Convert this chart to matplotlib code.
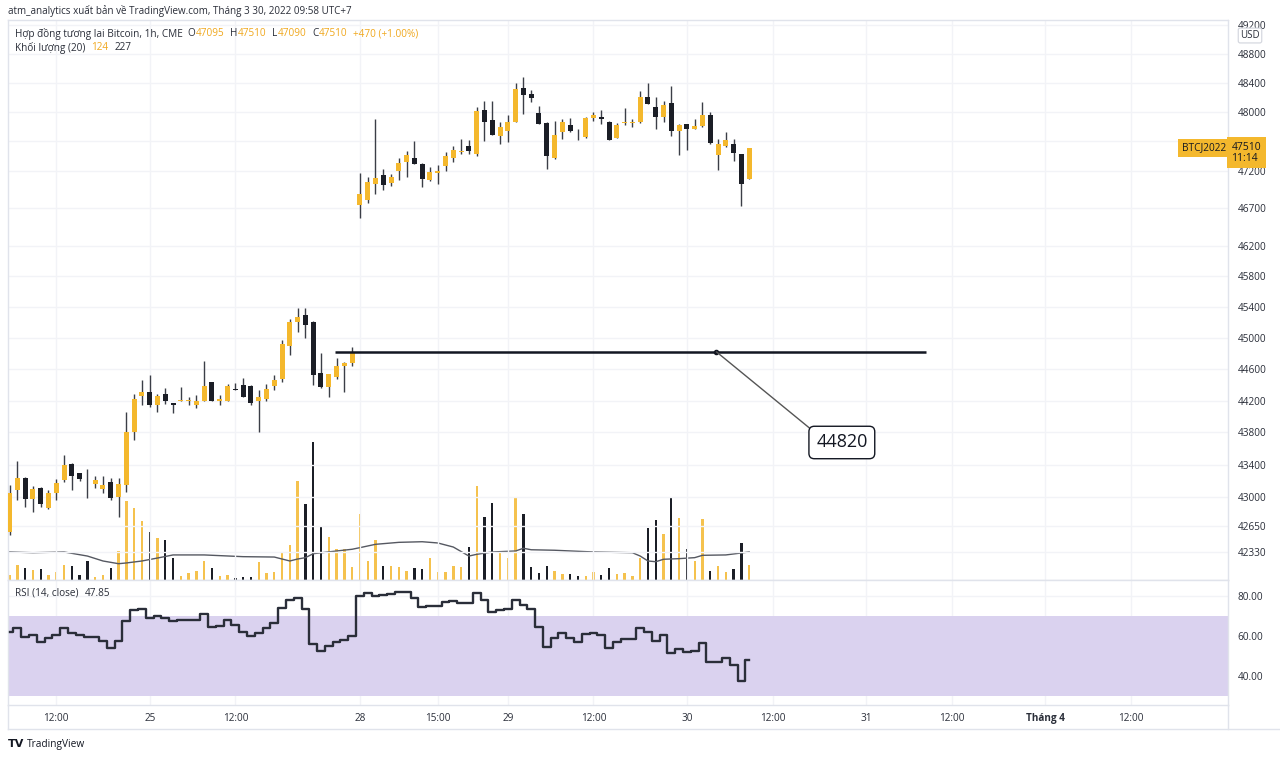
import matplotlib
matplotlib.use('Agg')
import matplotlib.pyplot as plt
import matplotlib.transforms as mtrans
import numpy as np
from matplotlib.ticker import FixedLocator, NullLocator, FixedFormatter

plt.rcParams['font.family'] = ['Open Sans', 'DejaVu Sans']

# hourly CME bitcoin futures, 24 Mar 06:00 -> 30 Mar 09:00 (UTC+7), weekend gap removed
opens = [42570, 43090, 43240, 42975, 43110, 42870, 43050, 43210, 43410, 43290,
         43190, 43160, 43100, 43190, 43000, 43150, 43810, 44265, 44305, 44140,
         44280, 44165, 44195, 44200, 44150, 44190, 44430, 44190, 44200, 44350,
         44400, 44390, 44190, 44225, 44390, 44470, 44900, 45200, 45300, 45200,
         44550, 44375, 44500, 44640, 44680,
         46740, 46805, 47025, 47145, 47040, 47200, 47320, 47370, 47290, 47080,
         47170, 47265, 47370, 47455, 47530, 47420, 48025, 47890, 47670, 47740,
         47865, 48335, 48240, 47985, 47850, 47370, 47730, 47825, 47675, 47650,
         47920, 47935, 47855, 47645, 47845, 47850, 47855, 48200, 48070, 47930,
         48120, 47745, 47830, 47770, 47800, 47960, 47410, 47530, 47560, 47425,
         47095]
highs = [43150, 43440, 43250, 43140, 43120, 43090, 43220, 43525, 43420, 43300,
         43340, 43260, 43260, 43240, 43240, 44060, 44290, 44460, 44530, 44290,
         44360, 44170, 44370, 44250, 44270, 44700, 44440, 44270, 44410, 44420,
         44490, 44400, 44340, 44410, 44520, 44975, 45245, 45390, 45390, 45220,
         44800, 44540, 44740, 44690, 44880,
         47175, 47120, 47905, 47225, 47150, 47370, 47460, 47600, 47300, 47250,
         47280, 47455, 47530, 47630, 47620, 48070, 48150, 48150, 47865, 47960,
         48400, 48480, 48295, 48080, 47860, 47880, 47905, 47910, 47760, 47925,
         48000, 48030, 47870, 47850, 48055, 47900, 48290, 48400, 48200, 48150,
         48350, 47840, 47835, 47900, 48130, 48000, 47630, 47720, 47630, 47430,
         47510]
lows = [42540, 42965, 42880, 42820, 42880, 42850, 42965, 43180, 43090, 43200,
        42990, 43110, 43050, 42960, 42760, 43060, 43710, 44140, 44120, 44060,
        44160, 44050, 44190, 44150, 44110, 44190, 44190, 44150, 44190, 44330,
        44240, 44150, 43810, 44190, 44330, 44440, 44780, 45080, 45000, 44400,
        44360, 44240, 44470, 44310, 44640,
        46565, 46765, 46885, 46940, 47000, 47080, 47120, 47290, 46985, 47060,
        47020, 47200, 47320, 47420, 47420, 47400, 47600, 47680, 47560, 47590,
        47860, 47975, 48130, 47830, 47225, 47360, 47630, 47720, 47620, 47640,
        47880, 47840, 47620, 47640, 47820, 47790, 47850, 48110, 47765, 47855,
        47670, 47410, 47480, 47760, 47790, 47560, 47210, 47520, 47330, 46730,
        47090]
closes = [43050, 43230, 42975, 43100, 42910, 43050, 43170, 43390, 43260, 43225,
          43180, 43210, 43150, 42990, 43160, 43800, 44225, 44305, 44140, 44265,
          44190, 44140, 44205, 44205, 44200, 44380, 44190, 44225, 44390, 44330,
          44240, 44175, 44240, 44350, 44460, 44920, 45200, 45275, 45160, 44525,
          44375, 44540, 44640, 44680, 44820,
          46885, 47050, 47105, 47010, 47120, 47305, 47410, 47290, 47090, 47185,
          47200, 47400, 47475, 47465, 47460, 48010, 47860, 47680, 47790, 47865,
          48320, 48225, 48185, 47830, 47400, 47680, 47865, 47740, 47665, 47920,
          47960, 47905, 47620, 47825, 47855, 47865, 48200, 48110, 47930, 48100,
          47745, 47815, 47760, 47800, 47960, 47570, 47560, 47620, 47440, 47020,
          47510]
volumes = [40, 122, 97, 81, 89, 41, 65, 122, 113, 41,
           154, 24, 41, 97, 235, 640, 583, 478, 389, 340,
           324, 178, 32, 57, 73, 154, 97, 32, 41, 16,
           24, 24, 146, 57, 65, 227, 284, 802, 616, 1118,
           437, 348, 251, 251, 105,
           535, 154, 324, 113, 113, 105, 73, 97, 89, 178,
           65, 65, 113, 105, 267, 761, 510, 624, 219, 178,
           664, 535, 105, 57, 113, 73, 49, 49, 32, 32,
           65, 41, 97, 49, 57, 32, 178, 421, 486, 373,
           672, 502, 251, 154, 494, 73, 113, 65, 89, 300,
           124]
vol_ma_idx = [0, 3, 7, 10, 12, 14, 15, 17, 19, 21, 25, 30, 34, 36, 37, 38, 39, 42, 44,
              45, 47, 50, 53, 55, 57, 59, 60, 62, 65, 66, 67, 70, 75, 80, 81, 82, 83,
              84, 86, 88, 89, 92, 95]
vol_ma = [227, 221, 227, 194, 154, 132, 138, 154, 178, 203, 203, 189, 186, 154, 170, 181,
          213, 235, 249, 262, 289, 305, 310, 300, 267, 194, 208, 227, 235, 257, 245, 241,
          227, 221, 194, 154, 148, 168, 173, 181, 200, 203, 227]
rsi = [62.1, 64.1, 59.3, 60.5, 57.1, 59.1, 60.5, 63.8, 61.6, 60.5,
       59.6, 59.3, 57.4, 53.8, 57.4, 67.5, 73.0, 73.3, 68.8, 70.2,
       68.8, 67.5, 68.2, 68.2, 68.2, 70.8, 64.3, 65.1, 68.0, 65.5,
       62.1, 60.1, 61.3, 64.1, 66.7, 73.8, 78.0, 78.9, 73.5, 55.8,
       52.4, 54.9, 57.1, 58.0, 60.0,
       80.2, 81.4, 80.0, 80.5, 81.0, 81.9, 81.9, 78.9, 74.4, 75.0,
       75.0, 77.2, 77.5, 76.4, 76.4, 81.4, 78.0, 71.8, 73.0, 73.5,
       78.0, 75.5, 73.5, 64.6, 54.6, 58.8, 61.3, 58.8, 57.1, 60.8,
       61.6, 60.5, 54.1, 56.8, 58.5, 58.5, 63.8, 62.1, 57.4, 60.5,
       51.6, 53.3, 52.1, 52.4, 56.3, 47.1, 47.1, 49.1, 45.4, 37.4,
       47.85]

price_ticks = [42330, 42650, 43000, 43400, 43800, 44200, 44600, 45000, 45400, 45800,
               46200, 46700, 47200, 47600, 48000, 48400, 48800, 49200]
time_ticks = [6, 18, 29, 45, 55, 64, 75, 87, 98, 110, 121, 133, 144]
time_labels = ['12:00', '25', '12:00', '28', '15:00', '29', '12:00', '30',
               '12:00', '31', '12:00', 'Tháng 4', '12:00']
level = 44820

UP = '#f4b82d'
DOWN = '#1b1e26'
GRID = '#f2f3f7'
BORDER = '#e0e3eb'
TXT = '#2a2e39'

W, H = 1280, 759
fig = plt.figure(figsize=(12.8, 7.59), dpi=100)
fx = lambda px: px / W
fy = lambda py: 1 - py / H

ax = fig.add_axes([fx(8), fy(580), fx(1228) - fx(8), fy(20) - fy(580)])
axr = fig.add_axes([fx(8), fy(705), fx(1228) - fx(8), fy(580) - fy(705)], sharex=ax)
axv = ax.twinx()
axv.set_zorder(ax.get_zorder() - 1)
ax.patch.set_visible(False)

idx = np.arange(len(opens))
o = np.array(opens); c = np.array(closes)
up = c >= o
cols = np.where(up, UP, DOWN)

# candles
ax.set_yscale('log')
ax.vlines(idx, lows, highs, color='#3b3e47', lw=1, zorder=3)
ax.bar(idx, np.maximum(np.abs(c - o), 8), bottom=np.minimum(o, c), width=0.64,
       color=cols, zorder=4)

# volume overlay
axv.bar(idx, volumes, width=0.3, color=np.where(up, '#f5c24e', DOWN))
axv.plot(vol_ma_idx, vol_ma, color='#555861', lw=1)
axv.set_ylim(0, 4536)
axv.axis('off')

# horizontal level + callout
ax.hlines(level, 41.8, 117.7, color='#131722', lw=1.8, zorder=5)
ax.plot([90.8], [level], 'o', color='#131722', ms=3, zorder=6)
ax.annotate(str(level), xy=(90.8, level), xytext=(106.9, 43675), fontsize=13,
            ha='center', va='center', color='#131722', zorder=7,
            bbox=dict(boxstyle='round,pad=0.4,rounding_size=0.3', fc='white', ec='#131722', lw=1),
            arrowprops=dict(arrowstyle='-', color='#555', lw=1, relpos=(0, 1),
                            shrinkA=0, shrinkB=0))

ax.set_xlim(-0.2, 156.5)
ax.set_ylim(41993, 49276)
ax.yaxis.tick_right()
ax.yaxis.set_major_locator(FixedLocator(price_ticks))
ax.yaxis.set_major_formatter(FixedFormatter([str(p) for p in price_ticks]))
ax.yaxis.set_minor_locator(NullLocator())
ax.tick_params(axis='y', length=0, pad=7, labelsize=7.2, labelcolor=TXT)
ax.tick_params(axis='x', length=0, labelbottom=False)
ax.grid(True, color=GRID, lw=1, zorder=0)

# RSI pane
axr.set_axisbelow(True)
axr.axhspan(30, 70, color='#dad2ef', zorder=1, lw=0)
axr.plot(idx, rsi, drawstyle='steps-mid', color='#2a2e39', lw=1.7, zorder=3)
axr.set_ylim(25.5, 88)
axr.yaxis.tick_right()
axr.yaxis.set_major_locator(FixedLocator([40, 60, 80]))
axr.yaxis.set_major_formatter(FixedFormatter(['40.00', '60.00', '80.00']))
axr.xaxis.set_major_locator(FixedLocator(time_ticks))
axr.xaxis.set_major_formatter(FixedFormatter(time_labels))
axr.tick_params(axis='y', length=0, pad=7, labelsize=7.2, labelcolor=TXT)
axr.tick_params(axis='x', length=0, pad=6, labelsize=7.2, labelcolor=TXT)
axr.grid(True, color=GRID, lw=1)
axr.get_xticklabels()[11].set_fontweight('bold')

for a in (ax, axr):
    for s in a.spines.values():
        s.set_color(BORDER)
        s.set_linewidth(1)

fig.add_artist(plt.Line2D([fx(8), fx(1280)], [fy(729), fy(729)], color=BORDER, lw=1))
fig.add_artist(plt.Line2D([fx(8), fx(8)], [fy(705), fy(729)], color=BORDER, lw=1))
fig.add_artist(plt.Line2D([fx(1228), fx(1228)], [fy(705), fy(729)], color=BORDER, lw=1))
# the top price label is cut by the pane's upper edge
fig.add_artist(plt.Rectangle((fx(1229), fy(20)), fx(51), 20 / H, fc='white', ec='none',
                             zorder=5))

# price labels on the right
bl = mtrans.blended_transform_factory(ax.transAxes, ax.transData)
ax.text(0.9985, closes[-1], 'BTCJ2022', transform=bl, ha='right', va='center',
        fontsize=7.3, color='#131722', zorder=8,
        bbox=dict(boxstyle='square,pad=0.35', fc=UP, ec='none'))
ax.annotate(f'{closes[-1]}\n11:14', xy=(1, closes[-1]), xycoords=bl, xytext=(2.5, -3.5),
            textcoords='offset points', ha='left', va='center', fontsize=7.5,
            color='#131722', linespacing=1.0, annotation_clip=False, zorder=8,
            bbox=dict(boxstyle='square,pad=0.45', fc=UP, ec='none'))
fig.text(fx(1250), fy(35.5), 'USD', ha='center', va='center', fontsize=7, color=TXT,
         zorder=6, bbox=dict(boxstyle='round,pad=0.2', fc='white', ec='#d1d4dc', lw=0.8))

# header texts
fig.canvas.draw()
rend = fig.canvas.get_renderer()

def chain(xpx, ypx, pieces, size=7.2):
    x = xpx
    for s, col, gap in pieces:
        x += gap
        t = fig.text(fx(x), fy(ypx), s, color=col, fontsize=size, va='center', ha='left')
        x = t.get_window_extent(rend).x1

VAL = '#f0a81e'
fig.text(fx(8), fy(11), 'atm_analytics xuất bản về TradingView.com, Tháng 3 30, 2022 09:58 UTC+7',
         fontsize=7.1, color=TXT, va='center')
chain(15, 34, [('Hợp đồng tương lai Bitcoin, 1h, CME', TXT, 0), ('O', TXT, 5),
               (str(opens[-1]), VAL, 0), ('H', TXT, 6), (str(highs[-1]), VAL, 0),
               ('L', TXT, 6), (str(lows[-1]), VAL, 0), ('C', TXT, 6), (str(closes[-1]), VAL, 0),
               ('+470 (+1.00%)', VAL, 6)])
chain(15, 48, [('Khối lượng (20)', TXT, 0), (str(volumes[-1]), VAL, 6), (str(vol_ma[-1]), TXT, 6)])
chain(15, 593, [('RSI (14, close)', TXT, 0), (f'{rsi[-1]:.2f}', TXT, 6)])
fig.text(fx(8), fy(744), 'TV', fontsize=8, fontweight='bold', color='#131722', va='center',
         family='DejaVu Sans')
fig.text(fx(27), fy(744), 'TradingView', fontsize=7.3, color='#131722', va='center')

fig.savefig('out.png', dpi=100)
